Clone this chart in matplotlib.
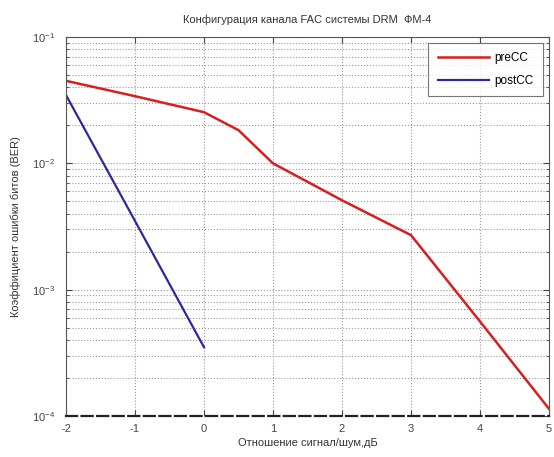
import matplotlib
matplotlib.use('Agg')
import matplotlib.pyplot as plt
from matplotlib.ticker import LogLocator, NullFormatter, MultipleLocator

plt.rcParams['font.family'] = ['Liberation Sans', 'DejaVu Sans']
plt.rcParams['axes.unicode_minus'] = False

# SNR points (dB) and bit error rates
snr_pre = [-2, -1, 0, 0.5, 1, 2, 3, 4, 5]
ber_pre = [0.045, 0.034, 0.0254, 0.0183, 0.0100, 0.0051, 0.0027, 5.6e-4, 1.14e-4]

snr_post = [-2, -1, 0]
ber_post = [0.0347, 0.0035, 3.5e-4]

fig = plt.figure(figsize=(5.54, 4.57), dpi=100)
ax = fig.add_axes([66 / 554, 1 - 416 / 457, 483 / 554, 379 / 457])

ax.semilogy(snr_pre, ber_pre, color='#d42020', lw=1.8, label='preCC')
ax.semilogy(snr_post, ber_post, color='#2a2a9e', lw=1.6, label='postCC')

ax.set_xlim(-2, 5)
ax.set_ylim(1e-4, 1e-1)
ax.xaxis.set_major_locator(MultipleLocator(1))
ax.yaxis.set_major_locator(LogLocator(base=10))
ax.yaxis.set_minor_locator(LogLocator(base=10, subs=range(2, 10)))
ax.yaxis.set_minor_formatter(NullFormatter())

ax.grid(True, which='major', color='#999999', ls=':', lw=0.8)
ax.grid(True, which='minor', axis='y', color='#999999', ls=':', lw=0.8)
ax.tick_params(which='both', direction='in', top=True, right=True, labelsize=8, colors='#444444')
ax.tick_params(which='major', length=4)
ax.tick_params(which='minor', length=2)
ax.tick_params(axis='y', which='major', pad=8)
ax.tick_params(axis='x', which='major', pad=6)
for s in ax.spines.values():
    s.set_color('#555555')
    s.set_linewidth(0.8)
ax.spines['bottom'].set_color('#222222')
ax.spines['bottom'].set_linewidth(1.6)
ax.spines['bottom'].set_linestyle((0, (5, 2)))

ax.set_title('Конфигурация канала FAC системы DRM  ФМ-4', fontsize=8, color='#333333', pad=10)
ax.set_xlabel('Отношение сигнал/шум,дБ', fontsize=8, color='#333333', labelpad=3)
ax.set_ylabel('Коэффициент ошибки битов (BER)', fontsize=8, color='#333333', labelpad=8)

leg = ax.legend(loc='upper right', fontsize=8.5, frameon=True, fancybox=False,
                edgecolor='#555555', handlelength=4.3, handletextpad=0.5,
                borderpad=0.8, labelspacing=0.9, borderaxespad=0.5)
leg.get_frame().set_linewidth(0.8)

fig.savefig('out.png', dpi=100)
